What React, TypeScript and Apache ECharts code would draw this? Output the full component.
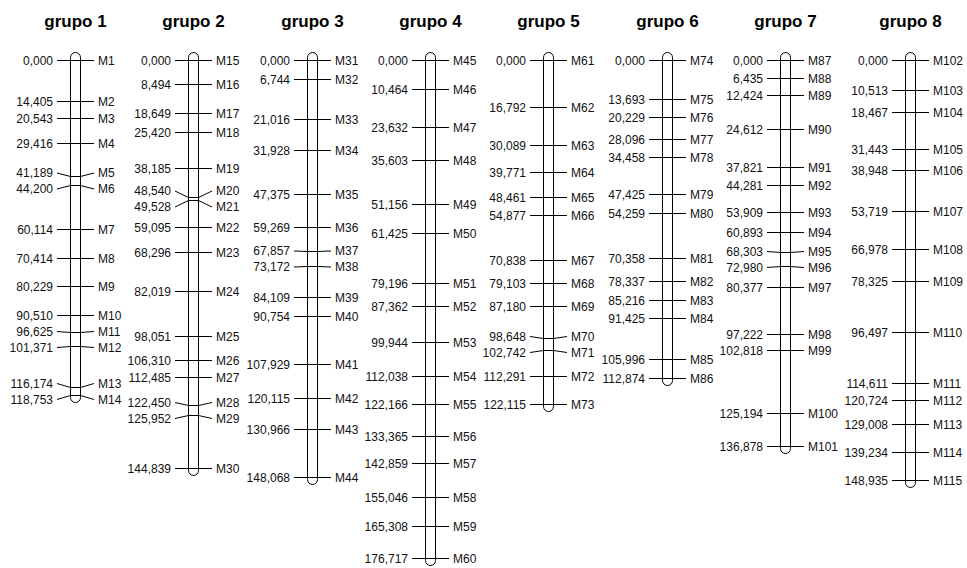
import React, { useEffect, useRef } from "react";
import * as echarts from "echarts";

const groupTitles = ["grupo 1", "grupo 2", "grupo 3", "grupo 4", "grupo 5", "grupo 6", "grupo 7", "grupo 8"];

const group1Pos = [0, 14.405, 20.543, 29.416, 41.189, 44.2, 60.114, 70.414, 80.229, 90.51, 96.625, 101.371, 116.174, 118.753];
const group2Pos = [0, 8.494, 18.649, 25.42, 38.185, 48.54, 49.528, 59.095, 68.296, 82.019, 98.051, 106.31, 112.485, 122.45, 125.952, 144.839];
const group3Pos = [0, 6.744, 21.016, 31.928, 47.375, 59.269, 67.857, 73.172, 84.109, 90.754, 107.929, 120.115, 130.966, 148.068];
const group4Pos = [0, 10.464, 23.632, 35.603, 51.156, 61.425, 79.196, 87.362, 99.944, 112.038, 122.166, 133.365, 142.859, 155.046, 165.308, 176.717];
const group5Pos = [0, 16.792, 30.089, 39.771, 48.461, 54.877, 70.838, 79.103, 87.18, 98.648, 102.742, 112.291, 122.115];
const group6Pos = [0, 13.693, 20.229, 28.096, 34.458, 47.425, 54.259, 70.358, 78.337, 85.216, 91.425, 105.996, 112.874];
const group7Pos = [0, 6.435, 12.424, 24.612, 37.821, 44.281, 53.909, 60.893, 68.303, 72.98, 80.377, 97.222, 102.818, 125.194, 136.878];
const group8Pos = [0, 10.513, 18.467, 31.443, 38.948, 53.719, 66.978, 78.325, 96.497, 114.611, 120.724, 129.008, 139.234, 148.935];

const groupPositions = [group1Pos, group2Pos, group3Pos, group4Pos, group5Pos, group6Pos, group7Pos, group8Pos];
// first marker number of each group (markers are numbered M1..M115 consecutively)
const groupFirstMarker = [1, 15, 31, 45, 61, 74, 87, 102];

const groupMarkers = groupPositions.map((g, i) => g.map((_, j) => "M" + (groupFirstMarker[i] + j)));

const FONT = "'Liberation Sans', Arial, Helvetica, sans-serif";
const LABEL_SIZE = 12;
const TITLE_SIZE = 17;
const TICK_HALF = 18;
const BAR_HALF = 5;
const LABEL_OFF = 22;
const MIN_GAP = 16;
const LEFT_MARGIN = 9.8;
const GROUP_GAP = 7.6;

const fmt = (v: number) => v.toFixed(3).replace(".", ",");

function spread(ys: number[], gap: number): number[] {
  let clusters = ys.map((y) => ({ sum: y, n: 1 }));
  let merged = true;
  const top = (c: { sum: number; n: number }) => c.sum / c.n - ((c.n - 1) * gap) / 2;
  const bottom = (c: { sum: number; n: number }) => c.sum / c.n + ((c.n - 1) * gap) / 2;
  while (merged) {
    merged = false;
    for (let k = 0; k < clusters.length - 1; k++) {
      if (top(clusters[k + 1]) - bottom(clusters[k]) < gap - 1e-6) {
        clusters[k] = { sum: clusters[k].sum + clusters[k + 1].sum, n: clusters[k].n + clusters[k + 1].n };
        clusters.splice(k + 1, 1);
        merged = true;
        break;
      }
    }
  }
  const out: number[] = [];
  clusters.forEach((c) => {
    const t = top(c);
    for (let j = 0; j < c.n; j++) out.push(t + j * gap);
  });
  return out;
}

function computeCenters(): number[] {
  const canvas = document.createElement("canvas");
  const ctx = canvas.getContext("2d") as CanvasRenderingContext2D;
  ctx.font = `${LABEL_SIZE}px ${FONT}`;
  const w = (t: string) => ctx.measureText(t).width;
  const leftW = groupPositions.map((g) => Math.max(...g.map((v) => w(fmt(v)))));
  const rightW = groupMarkers.map((g) => Math.max(...g.map((n) => w(n))));
  const centers: number[] = [];
  let c = LEFT_MARGIN + leftW[0] + LABEL_OFF;
  centers.push(c);
  for (let i = 1; i < groupPositions.length; i++) {
    c += rightW[i - 1] + leftW[i] + 2 * LABEL_OFF + GROUP_GAP;
    centers.push(c);
  }
  return centers;
}

export default function App() {
  const ref = useRef<HTMLDivElement>(null);
  useEffect(() => {
    if (!ref.current) return;
    const chart = echarts.init(ref.current, undefined, { renderer: "svg" });
    const centers = computeCenters();
    const maxPos = Math.max(...groupPositions.map((g) => Math.max(...g)));

    const renderItem = (params: any, api: any) => {
      const gi = params.dataIndex;
      const pos = groupPositions[gi];
      const names = groupMarkers[gi];
      const cxv = api.value(0);
      const cx = Math.round(api.coord([cxv, 0])[0]);
      const ty = pos.map((p) => Math.round(api.coord([cxv, p])[1]) + 0.5);
      const ly = spread(ty, MIN_GAP);
      const children: any[] = [];
      const y0 = ty[0];
      const yN = ty[ty.length - 1];
      children.push({
        type: "rect",
        shape: { x: cx - BAR_HALF + 0.5, y: y0 - 8, width: BAR_HALF * 2, height: yN - y0 + 15, r: BAR_HALF },
        style: { fill: "#fff", stroke: "#000", lineWidth: 1 },
      });
      pos.forEach((p, j) => {
        children.push({
          type: "polyline",
          shape: {
            points: [
              [cx - TICK_HALF, ly[j]],
              [cx - BAR_HALF + 0.5, ty[j]],
              [cx + BAR_HALF + 0.5, ty[j]],
              [cx + TICK_HALF + 1, ly[j]],
            ],
          },
          style: { stroke: "#000", lineWidth: 1, fill: null },
        });
        children.push({
          type: "text",
          style: {
            text: fmt(p),
            x: cx - LABEL_OFF,
            y: ly[j],
            align: "right",
            verticalAlign: "middle",
            fontSize: LABEL_SIZE,
            fontFamily: FONT,
            fill: "#111",
          },
        });
        children.push({
          type: "text",
          style: {
            text: names[j],
            x: cx + LABEL_OFF + 1,
            y: ly[j],
            align: "left",
            verticalAlign: "middle",
            fontSize: LABEL_SIZE,
            fontFamily: FONT,
            fill: "#111",
          },
        });
      });
      children.push({
        type: "text",
        style: {
          text: groupTitles[gi],
          x: cx + 0.5,
          y: y0 - 39,
          align: "center",
          verticalAlign: "middle",
          fontSize: TITLE_SIZE,
          fontWeight: "bold",
          fontFamily: FONT,
          fill: "#000",
        },
      });
      return { type: "group", children };
    };

    chart.setOption({
      animation: false,
      grid: { left: 0, right: 0, top: 60, bottom: 10 },
      xAxis: { type: "value", min: 0, max: 967, show: false },
      yAxis: { type: "value", inverse: true, min: 0, max: maxPos, show: false },
      series: [
        {
          type: "custom",
          silent: true,
          clip: false,
          renderItem,
          data: centers.map((c, i) => [c, 0, i]),
        },
      ],
    });
    return () => chart.dispose();
  }, []);
  return (
    <div
      ref={ref}
      style={{ position: "fixed", left: 0, top: 0, width: 967, height: 568, background: "#fff" }}
    />
  );
}
